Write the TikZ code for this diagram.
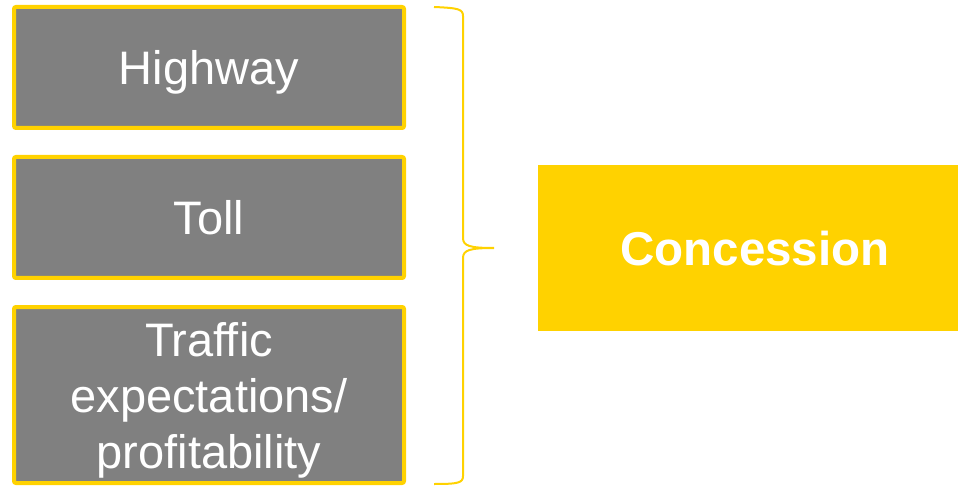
\documentclass[tikz,border=0pt]{standalone}
\usepackage{fontspec}
\setmainfont{Liberation Sans}
\definecolor{ey}{HTML}{FFD200}
\definecolor{eg}{HTML}{808080}
\begin{document}
\begin{tikzpicture}[x=1pt,y=-1pt,
  item/.style={draw=ey, line width=4pt, fill=eg, rounded corners=2pt,
    minimum width=390pt, text=white, align=center, inner sep=0pt, text depth=0pt,
    font=\fontsize{47}{56}\selectfont},
  result/.style={fill=ey, minimum width=434pt, minimum height=166pt, text=white,
    inner sep=0pt, text depth=0pt, font=\fontsize{47.5}{56}\selectfont\bfseries},
  bracestyle/.style={draw=ey, line width=2pt}]
\useasboundingbox[fill=white] (0,0) rectangle (958,486);
\node[item, minimum height=121pt] (hw) at (209,67.5) {Highway};
\node[item, minimum height=121pt] (toll) at (209,217.5) {Toll};
\node[item, minimum height=176pt] (traf) at (209,395) {Traffic\\expectations/\\profitability};
\node[result] (conc) at (755,248) {Concession};
\coordinate (btop) at (434,7);
\coordinate (btip) at (494,248);
\coordinate (bbot) at (434,484);
\draw[bracestyle] (btop) .. controls (458,8) and (463,9) .. (463,16) -- (463,238)
  .. controls (463,246) and (470,248) .. (btip)
  .. controls (470,248) and (463,250) .. (463,258) -- (463,476)
  .. controls (463,483) and (458,484) .. (bbot);
\end{tikzpicture}
\end{document}
